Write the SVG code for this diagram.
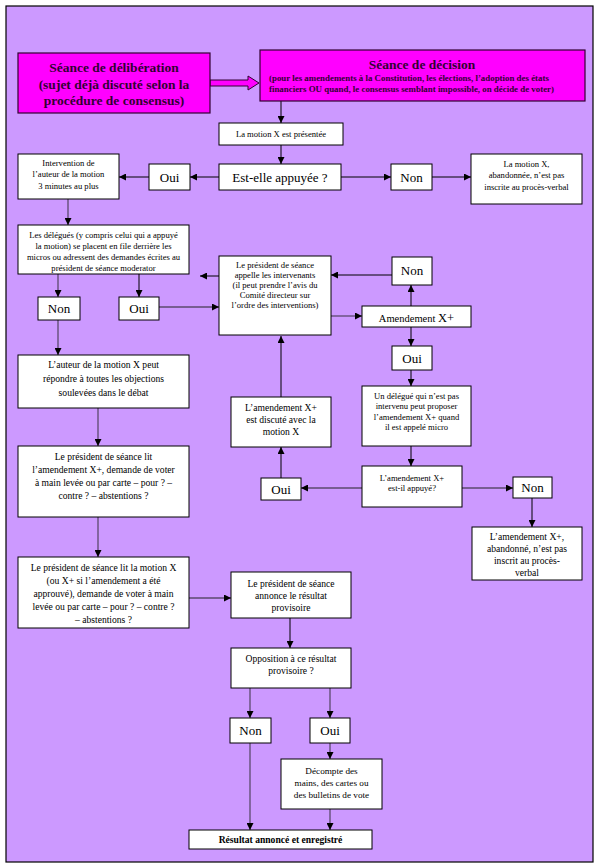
<svg xmlns="http://www.w3.org/2000/svg" width="599" height="868" viewBox="0 0 599 868">
<style>
.bx{fill:#fff;stroke:#000;stroke-width:1}
.mg{fill:#FF00FF;stroke:#330033;stroke-width:1.2}
text{font-family:"Liberation Serif","Times New Roman",serif;text-anchor:middle;fill:#000}
.s{font-size:8.6px}
.d{font-size:9.2px}
.m{font-size:9.6px}
.l{font-size:13px}
.t{font-size:13.5px;font-weight:bold;fill:#330033}
.sb{font-size:8.9px;font-weight:bold;fill:#330033;text-anchor:start}
.c{stroke:#000;stroke-width:1;fill:none;marker-end:url(#a)}
.p{stroke:#5B4A6E;stroke-width:1.3;fill:none;marker-end:url(#a)}
</style>
<defs>
<marker id="a" viewBox="0 0 8 8" refX="8" refY="4" markerWidth="7" markerHeight="7" orient="auto" markerUnits="userSpaceOnUse"><path d="M0,0 L8,4 L0,8 z" fill="#000"/></marker>
</defs>
<rect x="6" y="6" width="587" height="856" fill="#CC99FF" stroke="#000" stroke-width="1.2"/>

<g id="connectors">
<polygon points="210,80 248,80 248,76 259,83 248,90 248,86 210,86" fill="#FF00FF" stroke="#330033" stroke-width="1"/>
<line class="c" x1="281" y1="101" x2="281" y2="123"/>
<line class="c" x1="281" y1="145" x2="281" y2="164"/>
<line class="c" x1="219" y1="177" x2="190" y2="177"/>
<line class="c" x1="149" y1="177" x2="119" y2="177"/>
<line class="c" x1="341" y1="177" x2="391" y2="177"/>
<line class="c" x1="432" y1="177" x2="471" y2="177"/>
<line class="p" x1="68" y1="199" x2="68" y2="225"/>
<line class="p" x1="58" y1="274" x2="58" y2="297"/>
<line class="c" x1="139" y1="274" x2="139" y2="297"/>
<line class="p" x1="159" y1="307" x2="219" y2="307"/>
<line class="c" x1="219" y1="276" x2="200" y2="276"/>
<line class="p" x1="58" y1="320" x2="58" y2="355"/>
<line class="p" x1="98" y1="408" x2="98" y2="446"/>
<line class="p" x1="98" y1="517" x2="98" y2="557"/>
<line class="p" x1="188" y1="598" x2="231" y2="598"/>
<line class="c" x1="290" y1="618" x2="290" y2="648"/>
<line class="p" x1="250" y1="688" x2="250" y2="718"/>
<line class="p" x1="330" y1="688" x2="330" y2="718"/>
<line class="p" x1="250" y1="743" x2="250" y2="830"/>
<line class="p" x1="330" y1="743" x2="330" y2="759"/>
<line class="p" x1="330" y1="809" x2="330" y2="830"/>
<line class="p" x1="331" y1="316" x2="362" y2="316"/>
<line class="c" x1="411" y1="306" x2="411" y2="285"/>
<line class="c" x1="392" y1="275" x2="331" y2="275"/>
<line class="c" x1="411" y1="327" x2="411" y2="346"/>
<line class="c" x1="411" y1="370" x2="411" y2="386"/>
<line class="c" x1="411" y1="446" x2="411" y2="466"/>
<line class="p" x1="362" y1="488" x2="301" y2="488"/>
<line class="p" x1="462" y1="488" x2="513" y2="488"/>
<line class="c" x1="532" y1="498" x2="532" y2="527"/>
<line class="c" x1="281" y1="478" x2="281" y2="447"/>
<line class="c" x1="281" y1="397" x2="281" y2="336"/>
</g>

<g id="n-deliberation">
<rect class="mg" x="18" y="53" width="192" height="60"/>
<text class="t" x="114" y="72">Séance de délibération</text>
<text class="t" x="114" y="89">(sujet déjà discuté selon la</text>
<text class="t" x="114" y="105">procédure de consensus)</text>
</g>
<g id="n-decision">
<rect class="mg" x="260" y="50" width="325" height="51"/>
<text class="t" x="422" y="69">Séance de décision</text>
<text class="sb" x="269" y="81">(pour les amendements à la Constitution, les élections, l’adoption des états</text>
<text class="sb" x="269" y="92">financiers OU quand, le consensus semblant impossible, on décide de voter)</text>
</g>
<g id="n-motion">
<rect class="bx" x="219" y="123" width="124" height="22"/>
<text class="s" x="281" y="137">La motion X est présentée</text>
</g>
<g id="n-appuyee">
<rect class="bx" x="219" y="164" width="122" height="26"/>
<text class="l" x="280" y="182">Est-elle appuyée ?</text>
</g>
<g id="n-oui1">
<rect class="bx" x="149" y="164" width="41" height="26"/>
<text class="l" x="169.5" y="182">Oui</text>
</g>
<g id="n-non1">
<rect class="bx" x="391" y="164" width="41" height="26"/>
<text class="l" x="411.5" y="182">Non</text>
</g>
<g id="n-intervention">
<rect class="bx" x="18" y="154" width="101" height="45"/>
<text class="s" x="68.5" y="166">Intervention de</text>
<text class="s" x="68.5" y="177">l’auteur de la motion</text>
<text class="s" x="68.5" y="189">3 minutes au plus</text>
</g>
<g id="n-abandon1">
<rect class="bx" x="471" y="154" width="111" height="50"/>
<text class="s" x="526.5" y="167">La motion X,</text>
<text class="s" x="526.5" y="178">abandonnée, n’est pas</text>
<text class="s" x="526.5" y="190">inscrite au procès-verbal</text>
</g>
<g id="n-delegues">
<rect class="bx" x="18" y="225" width="171" height="49"/>
<text class="s" x="103.5" y="238">Les délégués (y compris celui qui a appuyé</text>
<text class="s" x="103.5" y="249">la motion) se placent en file derrière les</text>
<text class="s" x="103.5" y="260">micros ou adressent des demandes écrites au</text>
<text class="s" x="103.5" y="271">président de séance moderator</text>
</g>
<g id="n-non2">
<rect class="bx" x="38" y="297" width="42" height="23"/>
<text class="l" x="59" y="313">Non</text>
</g>
<g id="n-oui2">
<rect class="bx" x="119" y="297" width="40" height="23"/>
<text class="l" x="139" y="313">Oui</text>
</g>
<g id="n-president">
<rect class="bx" x="219" y="256" width="112" height="79"/>
<text class="s" x="275" y="268">Le président de séance</text>
<text class="s" x="275" y="278">appelle les intervenants</text>
<text class="s" x="275" y="288">(il peut prendre l’avis du</text>
<text class="s" x="275" y="298">Comité directeur sur</text>
<text class="s" x="275" y="308">l’ordre des interventions)</text>
</g>
<g id="n-non3">
<rect class="bx" x="392" y="257" width="40" height="28"/>
<text class="l" x="412" y="275">Non</text>
</g>
<g id="n-amendement">
<rect class="bx" x="362" y="306" width="109" height="21"/>
<text x="416.5" y="322" style="font-size:10.5px">Amendement <tspan style="font-size:12.5px">X+</tspan></text>
</g>
<g id="n-oui3">
<rect class="bx" x="392" y="346" width="40" height="24"/>
<text class="l" x="412" y="363">Oui</text>
</g>
<g id="n-delegue">
<rect class="bx" x="362" y="386" width="109" height="60"/>
<text class="s" x="416.5" y="399">Un délégué qui n’est pas</text>
<text class="s" x="416.5" y="409">intervenu peut proposer</text>
<text class="s" x="416.5" y="420">l’amendement X+ quand</text>
<text class="s" x="416.5" y="430">il est appelé micro</text>
</g>
<g id="n-amappuye">
<rect class="bx" x="362" y="466" width="100" height="41"/>
<text class="s" x="412" y="481">L’amendement X+</text>
<text class="s" x="412" y="491">est-il appuyé?</text>
</g>
<g id="n-oui4">
<rect class="bx" x="261" y="478" width="40" height="22"/>
<text class="l" x="281" y="494">Oui</text>
</g>
<g id="n-non4">
<rect class="bx" x="513" y="477" width="39" height="21"/>
<text class="l" x="532.5" y="492">Non</text>
</g>
<g id="n-abandon2">
<rect class="bx" x="472" y="527" width="110" height="53"/>
<text class="m" x="527" y="540">L’amendement X+,</text>
<text class="m" x="527" y="552">abandonné, n’est pas</text>
<text class="m" x="527" y="564">inscrit au procès-</text>
<text class="m" x="527" y="576">verbal</text>
</g>
<g id="n-discute">
<rect class="bx" x="231" y="397" width="100" height="50"/>
<text class="m" x="281" y="411">L’amendement X+</text>
<text class="m" x="281" y="423">est discuté avec la</text>
<text class="m" x="281" y="435">motion X</text>
</g>
<g id="n-auteur">
<rect class="bx" x="18" y="355" width="171" height="53"/>
<text class="m" x="103.5" y="368">L’auteur de la motion X peut</text>
<text class="m" x="103.5" y="382">répondre à toutes les objections</text>
<text class="m" x="103.5" y="396">soulevées dans le débat</text>
</g>
<g id="n-litam">
<rect class="bx" x="18" y="446" width="171" height="71"/>
<text class="m" x="103.5" y="460">Le président de séance lit</text>
<text class="m" x="103.5" y="473">l’amendement X+, demande de voter</text>
<text class="m" x="103.5" y="486">à main levée ou par carte – pour ? –</text>
<text class="m" x="103.5" y="499">contre ? – abstentions ?</text>
</g>
<g id="n-litmo">
<rect class="bx" x="18" y="557" width="171" height="71"/>
<text class="m" x="103.5" y="571">Le président de séance lit la motion X</text>
<text class="m" x="103.5" y="584">(ou X+ si l’amendement a été</text>
<text class="m" x="103.5" y="597">approuvé), demande de voter à main</text>
<text class="m" x="103.5" y="610">levée ou par carte – pour ? – contre ?</text>
<text class="m" x="103.5" y="623">– abstentions ?</text>
</g>
<g id="n-annonce">
<rect class="bx" x="231" y="572" width="120" height="46"/>
<text class="m" x="291" y="587">Le président de séance</text>
<text class="m" x="291" y="599">annonce le résultat</text>
<text class="m" x="291" y="611">provisoire</text>
</g>
<g id="n-opposition">
<rect class="bx" x="231" y="648" width="120" height="40"/>
<text class="m" x="291" y="662">Opposition à ce résultat</text>
<text class="m" x="291" y="674">provisoire ?</text>
</g>
<g id="n-non5">
<rect class="bx" x="230" y="718" width="41" height="25"/>
<text class="l" x="250.5" y="735">Non</text>
</g>
<g id="n-oui5">
<rect class="bx" x="310" y="718" width="40" height="25"/>
<text class="l" x="330" y="735">Oui</text>
</g>
<g id="n-decompte">
<rect class="bx" x="281" y="759" width="101" height="50"/>
<text class="d" x="331.5" y="774">Décompte des</text>
<text class="d" x="331.5" y="786">mains, des cartes ou</text>
<text class="d" x="331.5" y="798">des bulletins de vote</text>
</g>
<g id="n-resultat">
<rect class="bx" x="189" y="830" width="183" height="19"/>
<text x="280.5" y="843" style="font-size:9.6px;font-weight:bold">Résultat annoncé et enregistré</text>
</g>
</svg>
